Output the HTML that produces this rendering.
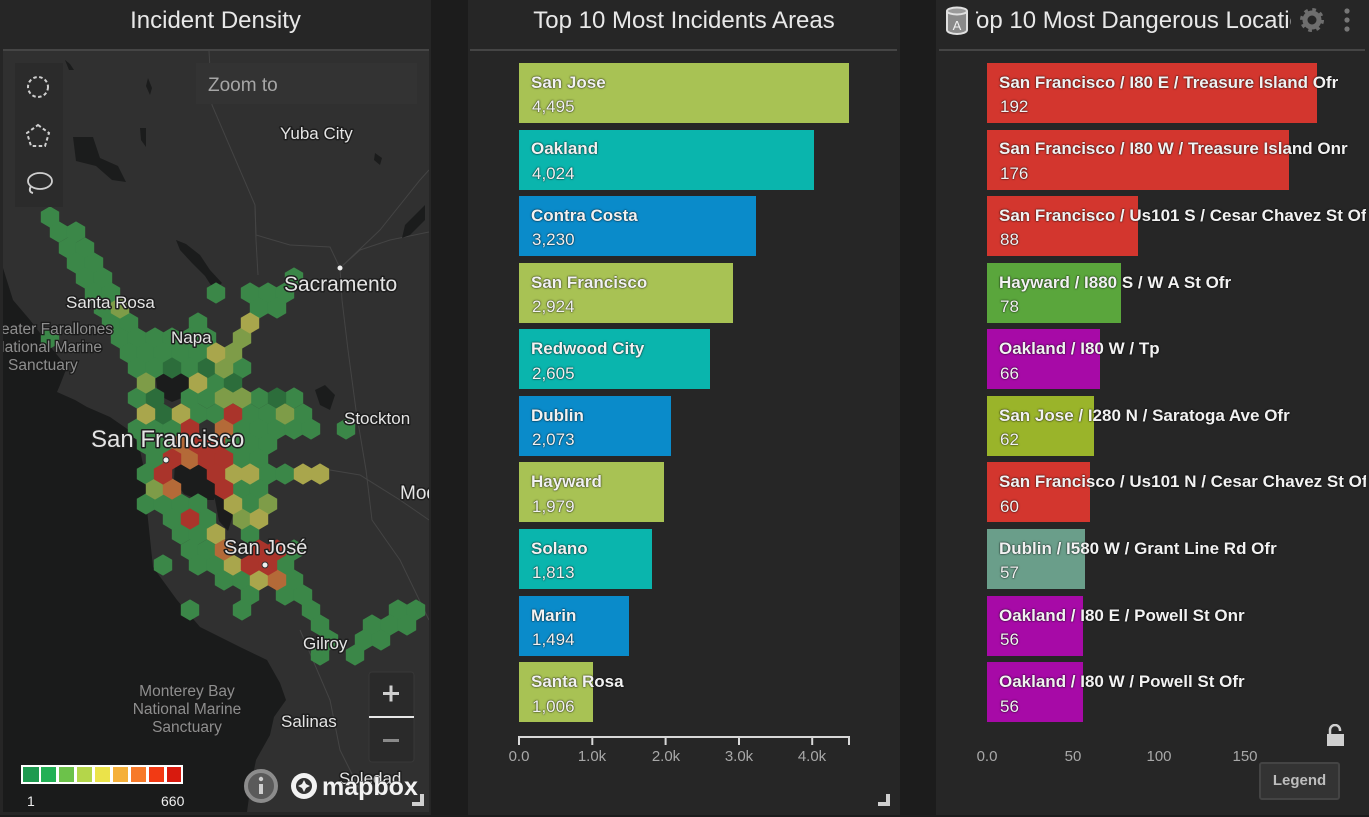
<!DOCTYPE html>
<html><head><meta charset="utf-8">
<style>
*{margin:0;padding:0;box-sizing:border-box}
html,body{width:1369px;height:817px;overflow:hidden;background:#1c1c1c;font-family:"Liberation Sans",sans-serif}
.panel{position:absolute;top:0;height:815px;background:#262626}
.title{position:absolute;top:4px;height:34px;line-height:34px;font-size:24px;color:#e8e8e8;text-align:center;white-space:nowrap}
.hline{position:absolute;top:49px;height:2px;background:#454545}
.bar{position:absolute;height:60px}
.lbl{position:absolute;white-space:nowrap;color:#f2f2f2;text-shadow:0 0 2px rgba(0,0,0,.7),0 0 1px rgba(0,0,0,.8)}
.nm{font-weight:bold;font-size:17px}
.vl{font-size:17px}
.tick{position:absolute;font-size:15px;color:#a8a8a8;transform:translateX(-50%);top:748px}
</style></head><body>

<!-- Panel 1 -->
<div class="panel" style="left:0;width:431px"></div>
<div class="title" style="left:0;width:431px">Incident Density</div>

<svg style="position:absolute;left:0;top:0" width="431" height="815" viewBox="0 0 431 815">
<defs>
<clipPath id="mc"><rect x="3" y="51" width="426" height="761"/></clipPath>
<polygon id="hx" points="0,-10.6 9.2,-5.3 9.2,5.3 0,10.6 -9.2,5.3 -9.2,-5.3"/>
</defs>
<rect x="3" y="49" width="426" height="2" fill="#454545"/>
<g clip-path="url(#mc)">
<rect x="3" y="51" width="426" height="761" fill="#303030"/>
<!-- ocean -->
<polygon fill="#1a1b1b" points="3,268 13,300 30,320 40,333 53,350 67,367 60,385 57,392 75,400 87,407 110,417 133,433 140,450 147,483 147,510 153,567 177,600 200,627 240,647 267,660 280,683 286,700 274,717 270,735 256,760 250,790 247,812 3,812"/>
<!-- roads -->
<g stroke="#444444" stroke-width="1" fill="none">
<polyline points="209,51 212,105 255,205 256,235 290,245 330,247 340,268"/>
<polyline points="340,268 360,250 390,240 429,232"/>
<polyline points="340,268 380,230 420,180 429,170"/>
<polyline points="340,268 342,300 348,350 356,410 366,470 372,520 400,560 429,620"/>
<polyline points="255,205 256,240 258,275"/>
<polyline points="330,470 360,475 400,500 429,520"/>
<polyline points="300,630 330,700 340,750 360,790"/>
</g>
<!-- lakes -->
<g fill="#1b1c1c">
<polygon points="73,137 93,137 100,158 118,166 126,182 112,180 96,166 76,161"/>
<polygon points="176,240 186,244 200,255 210,270 222,283 214,290 205,276 192,263 180,250"/>
<polygon points="65,60 70,64 74,70 69,70"/>
<polygon points="148,78 152,88 150,95 146,86"/>
<polygon points="140,128 146,128 146,147 141,140"/>
<polygon points="375,153 382,158 380,165 374,160"/>
<polygon points="405,225 415,215 425,205 425,220 410,235 402,238"/>
<polygon points="155,372 175,364 190,374 189,395 172,402 158,395"/>
<polygon points="175,462 196,457 212,466 218,486 214,500 199,500 184,494 174,480"/>
<polygon points="214,494 226,499 233,515 228,531 219,521"/>
<polygon points="315,390 325,385 335,395 330,410 320,405"/>
</g>
<!-- hexes -->
<g fill="#3b8748">
<use href="#hx" x="50" y="217"/>
<use href="#hx" x="59" y="232"/><use href="#hx" x="76" y="232"/>
<use href="#hx" x="68" y="248"/><use href="#hx" x="85" y="248"/>
<use href="#hx" x="76" y="263"/><use href="#hx" x="94" y="263"/>
<use href="#hx" x="85" y="278"/><use href="#hx" x="103" y="278"/><use href="#hx" x="294" y="278"/>
<use href="#hx" x="94" y="293"/><use href="#hx" x="111" y="293"/><use href="#hx" x="216" y="293"/><use href="#hx" x="250" y="293"/><use href="#hx" x="268" y="293"/><use href="#hx" x="285" y="293"/>
<use href="#hx" x="103" y="308"/><use href="#hx" x="259" y="308"/><use href="#hx" x="277" y="308"/>
<use href="#hx" x="111" y="323"/><use href="#hx" x="129" y="323"/><use href="#hx" x="198" y="323"/>
<use href="#hx" x="50" y="338"/><use href="#hx" x="120" y="338"/><use href="#hx" x="137" y="338"/><use href="#hx" x="155" y="338"/><use href="#hx" x="172" y="338"/><use href="#hx" x="190" y="338"/><use href="#hx" x="207" y="338"/>
<use href="#hx" x="129" y="353"/><use href="#hx" x="146" y="353"/><use href="#hx" x="163" y="353"/><use href="#hx" x="181" y="353"/><use href="#hx" x="198" y="353"/>
<use href="#hx" x="137" y="368"/><use href="#hx" x="155" y="368"/><use href="#hx" x="190" y="368"/><use href="#hx" x="242" y="368"/>
<use href="#hx" x="216" y="383"/>
<use href="#hx" x="137" y="398"/><use href="#hx" x="190" y="398"/><use href="#hx" x="207" y="398"/><use href="#hx" x="259" y="398"/><use href="#hx" x="294" y="398"/>
<use href="#hx" x="198" y="414"/><use href="#hx" x="216" y="414"/><use href="#hx" x="250" y="414"/><use href="#hx" x="268" y="414"/><use href="#hx" x="303" y="414"/>
<use href="#hx" x="137" y="429"/><use href="#hx" x="155" y="429"/><use href="#hx" x="172" y="429"/><use href="#hx" x="242" y="429"/><use href="#hx" x="259" y="429"/><use href="#hx" x="277" y="429"/><use href="#hx" x="294" y="429"/><use href="#hx" x="311" y="429"/><use href="#hx" x="346" y="429"/>
<use href="#hx" x="146" y="444"/><use href="#hx" x="163" y="444"/><use href="#hx" x="233" y="444"/><use href="#hx" x="250" y="444"/><use href="#hx" x="268" y="444"/>
<use href="#hx" x="155" y="459"/><use href="#hx" x="242" y="459"/><use href="#hx" x="259" y="459"/>
<use href="#hx" x="146" y="474"/><use href="#hx" x="268" y="474"/><use href="#hx" x="285" y="474"/>
<use href="#hx" x="242" y="489"/><use href="#hx" x="259" y="489"/>
<use href="#hx" x="146" y="504"/><use href="#hx" x="163" y="504"/><use href="#hx" x="181" y="504"/><use href="#hx" x="198" y="504"/><use href="#hx" x="250" y="504"/>
<use href="#hx" x="172" y="519"/><use href="#hx" x="207" y="519"/>
<use href="#hx" x="181" y="534"/><use href="#hx" x="198" y="534"/><use href="#hx" x="250" y="534"/>
<use href="#hx" x="190" y="550"/><use href="#hx" x="207" y="550"/><use href="#hx" x="294" y="550"/>
<use href="#hx" x="163" y="565"/><use href="#hx" x="198" y="565"/><use href="#hx" x="216" y="565"/><use href="#hx" x="285" y="565"/>
<use href="#hx" x="224" y="580"/><use href="#hx" x="242" y="580"/><use href="#hx" x="294" y="580"/>
<use href="#hx" x="250" y="595"/><use href="#hx" x="285" y="595"/><use href="#hx" x="303" y="595"/>
<use href="#hx" x="190" y="610"/><use href="#hx" x="242" y="610"/><use href="#hx" x="311" y="610"/><use href="#hx" x="398" y="610"/><use href="#hx" x="416" y="610"/>
<use href="#hx" x="320" y="625"/><use href="#hx" x="372" y="625"/><use href="#hx" x="390" y="625"/><use href="#hx" x="407" y="625"/>
<use href="#hx" x="329" y="640"/><use href="#hx" x="364" y="640"/><use href="#hx" x="381" y="640"/>
<use href="#hx" x="320" y="655"/><use href="#hx" x="355" y="655"/>
</g>
<g fill="#2c6d3b">
<use href="#hx" x="172" y="368"/><use href="#hx" x="207" y="368"/>
<use href="#hx" x="233" y="383"/>
<use href="#hx" x="155" y="398"/><use href="#hx" x="277" y="398"/>
<use href="#hx" x="163" y="414"/>
</g>
<g fill="#7e9c48">
<use href="#hx" x="120" y="308"/><use href="#hx" x="242" y="338"/><use href="#hx" x="233" y="353"/><use href="#hx" x="224" y="368"/>
<use href="#hx" x="146" y="383"/><use href="#hx" x="224" y="398"/><use href="#hx" x="242" y="398"/><use href="#hx" x="285" y="414"/>
<use href="#hx" x="155" y="489"/><use href="#hx" x="268" y="504"/><use href="#hx" x="242" y="519"/>
</g>
<g fill="#a9a64c">
<use href="#hx" x="250" y="323"/><use href="#hx" x="216" y="353"/><use href="#hx" x="198" y="383"/>
<use href="#hx" x="146" y="414"/><use href="#hx" x="181" y="414"/>
<use href="#hx" x="233" y="474"/><use href="#hx" x="250" y="474"/><use href="#hx" x="303" y="474"/><use href="#hx" x="320" y="474"/>
<use href="#hx" x="233" y="504"/><use href="#hx" x="259" y="519"/><use href="#hx" x="216" y="534"/><use href="#hx" x="233" y="565"/><use href="#hx" x="259" y="580"/>
</g>
<g fill="#b46a38">
<use href="#hx" x="224" y="429"/><use href="#hx" x="181" y="444"/><use href="#hx" x="190" y="459"/><use href="#hx" x="172" y="489"/><use href="#hx" x="224" y="550"/><use href="#hx" x="277" y="580"/>
</g>
<g fill="#aa342b">
<use href="#hx" x="233" y="414"/><use href="#hx" x="190" y="429"/><use href="#hx" x="198" y="444"/><use href="#hx" x="216" y="444"/>
<use href="#hx" x="172" y="459"/><use href="#hx" x="207" y="459"/><use href="#hx" x="224" y="459"/>
<use href="#hx" x="163" y="474"/><use href="#hx" x="216" y="474"/><use href="#hx" x="224" y="489"/><use href="#hx" x="190" y="519"/>
<use href="#hx" x="259" y="550"/><use href="#hx" x="277" y="550"/><use href="#hx" x="250" y="565"/><use href="#hx" x="268" y="565"/>
</g>
<!-- city dots -->
<g fill="#f0f0f0" stroke="#333" stroke-width="1">
<circle cx="340" cy="268" r="3"/><circle cx="166" cy="460" r="3"/><circle cx="265" cy="565" r="3"/>
</g>
<!-- labels -->
<g font-family="Liberation Sans, sans-serif" fill="#e4e4e4" stroke="#1e1e1e" stroke-width="3" paint-order="stroke" stroke-linejoin="round">
<text x="280" y="139" font-size="17">Yuba City</text>
<text x="284" y="291" font-size="21">Sacramento</text>
<text x="66" y="308" font-size="17">Santa Rosa</text>
<text x="171" y="343" font-size="17">Napa</text>
<text x="344" y="424" font-size="17">Stockton</text>
<text x="91" y="447" font-size="24">San Francisco</text>
<text x="400" y="499" font-size="19">Modesto</text>
<text x="224" y="554" font-size="20">San José</text>
<text x="303" y="649" font-size="17">Gilroy</text>
<text x="281" y="727" font-size="17">Salinas</text>
<text x="339" y="784" font-size="17">Soledad</text>
</g>
<g font-family="Liberation Sans, sans-serif" fill="#8e8e8e" stroke="#1a1a1a" stroke-width="2.5" paint-order="stroke" font-size="15.5">
<text x="113" y="334" text-anchor="end">Greater Farallones</text>
<text x="102" y="352" text-anchor="end">National Marine</text>
<text x="8" y="370">Sanctuary</text>
<text x="187" y="696" text-anchor="middle">Monterey Bay</text>
<text x="187" y="714" text-anchor="middle">National Marine</text>
<text x="187" y="732" text-anchor="middle">Sanctuary</text>
</g>
</g>
<!-- toolbar -->
<rect x="15" y="63" width="48" height="144" fill="#2b2b2b"/>
<circle cx="38" cy="87" r="10" fill="none" stroke="#cfcfcf" stroke-width="2" stroke-dasharray="3.5 2.5"/>
<polygon points="38,125 49,133 45,146 31,146 27,133" fill="none" stroke="#cfcfcf" stroke-width="2" stroke-dasharray="3.5 2.5"/>
<ellipse cx="40" cy="181" rx="12" ry="8" fill="none" stroke="#cfcfcf" stroke-width="1.8"/>
<path d="M31,186 Q28,192 33,193" fill="none" stroke="#cfcfcf" stroke-width="2"/>
<!-- zoom to -->
<rect x="196" y="63" width="221" height="41" fill="#333333"/>
<text x="208" y="91" font-family="Liberation Sans, sans-serif" font-size="19" fill="#a6a6a6">Zoom to</text>
<!-- zoom ctrl -->
<rect x="369" y="672" width="45" height="90" rx="3" fill="#2a2a2a" stroke="#383838"/>
<rect x="383" y="692" width="16" height="3" fill="#cfcfcf"/><rect x="389.5" y="685.5" width="3" height="16" fill="#cfcfcf"/>
<rect x="369" y="716" width="45" height="2" fill="#e6e6e6"/>
<rect x="383" y="739" width="16" height="3" fill="#8a8a8a"/>
<!-- legend -->
<rect x="21" y="765" width="162" height="19" fill="#ffffff"/>
<g>
<rect x="23" y="767" width="16" height="15" fill="#1e9a50"/>
<rect x="41" y="767" width="15" height="15" fill="#22b055"/>
<rect x="59" y="767" width="15" height="15" fill="#6cc24a"/>
<rect x="77" y="767" width="15" height="15" fill="#b4d64a"/>
<rect x="95" y="767" width="15" height="15" fill="#ebe34a"/>
<rect x="113" y="767" width="15" height="15" fill="#f5b03a"/>
<rect x="131" y="767" width="15" height="15" fill="#f77a2a"/>
<rect x="149" y="767" width="15" height="15" fill="#f23a14"/>
<rect x="167" y="767" width="14" height="15" fill="#d81a0e"/>
</g>
<text x="27" y="806" font-family="Liberation Sans, sans-serif" font-size="14" fill="#eeeeee">1</text>
<text x="161" y="806" font-family="Liberation Sans, sans-serif" font-size="14" fill="#eeeeee">660</text>
<!-- info / mapbox -->
<circle cx="261" cy="786" r="15" fill="#5a5a5a" stroke="#8c8c8c" stroke-width="4"/>
<rect x="259" y="784" width="4" height="10" fill="#cfcfcf"/><circle cx="261" cy="779" r="2.2" fill="#cfcfcf"/>
<circle cx="304" cy="786" r="13" fill="#f2f2f2"/>
<circle cx="304" cy="786" r="8" fill="#333"/>
<path d="M304,780 l2,4 4,2 -4,2 -2,4 -2,-4 -4,-2 4,-2z" fill="#f2f2f2"/>
<text x="322" y="795" font-family="Liberation Sans, sans-serif" font-size="25" font-weight="bold" fill="#f2f2f2" stroke="#333" stroke-width="1" paint-order="stroke">mapbox</text>
<path d="M412,806 h12 v-12 h-4 v8 h-8z" fill="#cfcfcf"/>
</svg>

<!-- Panel 2 -->
<div class="panel" style="left:468px;width:432px"></div>
<div class="title" style="left:468px;width:432px">Top 10 Most Incidents Areas</div>
<div class="hline" style="left:470px;width:427px"></div>

<div class="bar" style="left:519px;top:63px;width:330px;background:#a8c254"></div>
<div class="bar" style="left:519px;top:130px;width:295px;background:#0ab5ad"></div>
<div class="bar" style="left:519px;top:196px;width:237px;background:#0a8bca"></div>
<div class="bar" style="left:519px;top:263px;width:214px;background:#a8c254"></div>
<div class="bar" style="left:519px;top:329px;width:191px;background:#0ab5ad"></div>
<div class="bar" style="left:519px;top:396px;width:152px;background:#0a8bca"></div>
<div class="bar" style="left:519px;top:462px;width:145px;background:#a8c254"></div>
<div class="bar" style="left:519px;top:529px;width:133px;background:#0ab5ad"></div>
<div class="bar" style="left:519px;top:596px;width:110px;background:#0a8bca"></div>
<div class="bar" style="left:519px;top:662px;width:74px;background:#a8c254"></div>

<div class="lbl nm" style="left:531px;top:73px">San Jose</div><div class="lbl vl" style="left:532px;top:97px">4,495</div>
<div class="lbl nm" style="left:531px;top:139px">Oakland</div><div class="lbl vl" style="left:532px;top:164px">4,024</div>
<div class="lbl nm" style="left:531px;top:206px">Contra Costa</div><div class="lbl vl" style="left:532px;top:230px">3,230</div>
<div class="lbl nm" style="left:531px;top:273px">San Francisco</div><div class="lbl vl" style="left:532px;top:297px">2,924</div>
<div class="lbl nm" style="left:531px;top:339px">Redwood City</div><div class="lbl vl" style="left:532px;top:364px">2,605</div>
<div class="lbl nm" style="left:531px;top:406px">Dublin</div><div class="lbl vl" style="left:532px;top:430px">2,073</div>
<div class="lbl nm" style="left:531px;top:472px">Hayward</div><div class="lbl vl" style="left:532px;top:497px">1,979</div>
<div class="lbl nm" style="left:531px;top:539px">Solano</div><div class="lbl vl" style="left:532px;top:563px">1,813</div>
<div class="lbl nm" style="left:531px;top:606px">Marin</div><div class="lbl vl" style="left:532px;top:630px">1,494</div>
<div class="lbl nm" style="left:531px;top:672px">Santa Rosa</div><div class="lbl vl" style="left:532px;top:697px">1,006</div>

<svg style="position:absolute;left:0;top:0" width="1369" height="817">
<g stroke="#d8d8d8" stroke-width="2" fill="none">
<path d="M519,737 H849 M519,736 V745 M592.3,737 V745 M665.6,737 V745 M739,737 V745 M812.2,737 V745 M849,736 V745"/>
<path d="M987,737 H1317 M987,736 V745 M1073,737 V745 M1159,737 V745 M1245,737 V745 M1317,736 V745"/>
</g>
<path d="M878,806 h12 v-12 h-4 v8 h-8z" fill="#cfcfcf"/>
<path d="M1346,806 h12 v-12 h-4 v8 h-8z" fill="#cfcfcf"/>
</svg>
<div class="tick" style="left:519px">0.0</div>
<div class="tick" style="left:592px">1.0k</div>
<div class="tick" style="left:666px">2.0k</div>
<div class="tick" style="left:739px">3.0k</div>
<div class="tick" style="left:812px">4.0k</div>

<!-- Panel 3 -->
<div class="panel" style="left:936px;width:433px"></div>
<div style="position:absolute;left:976px;top:4px;width:315px;height:34px;overflow:hidden">
<div style="position:absolute;left:-12px;top:0;line-height:34px;font-size:24px;color:#e8e8e8;white-space:nowrap">Top 10 Most Dangerous Locations</div>
</div>
<div class="hline" style="left:939px;width:426px"></div>
<svg style="position:absolute;left:944px;top:6px" width="28" height="30">
<path d="M3,5 V24 A10,4 0 0 0 23,24 V5" fill="#8a8a8a" stroke="#e0e0e0" stroke-width="2"/>
<ellipse cx="13" cy="5" rx="10" ry="3.5" fill="#9a9a9a" stroke="#e0e0e0" stroke-width="2"/>
<text x="13" y="24" text-anchor="middle" font-family="Liberation Sans, sans-serif" font-size="13" fill="#f0f0f0">A</text>
</svg>
<svg style="position:absolute;left:1298px;top:6px" width="60" height="30">
<circle cx="14" cy="14" r="7" fill="none" stroke="#6e6e6e" stroke-width="5"/>
<circle cx="14" cy="14" r="10" fill="none" stroke="#6e6e6e" stroke-width="4" stroke-dasharray="3.5 4.35"/>
<circle cx="49" cy="5" r="2.6" fill="#777"/><circle cx="49" cy="14" r="2.6" fill="#777"/><circle cx="49" cy="23" r="2.6" fill="#777"/>
</svg>

<div style="position:absolute;left:936px;top:0;width:430px;height:815px;overflow:hidden">
<div class="bar" style="left:51px;top:63px;width:330px;background:#d3362e"></div>
<div class="bar" style="left:51px;top:130px;width:302px;background:#d3362e"></div>
<div class="bar" style="left:51px;top:196px;width:151px;background:#d3362e"></div>
<div class="bar" style="left:51px;top:263px;width:134px;background:#5aa63c"></div>
<div class="bar" style="left:51px;top:329px;width:113px;background:#a70aa7"></div>
<div class="bar" style="left:51px;top:396px;width:107px;background:#9ab42a"></div>
<div class="bar" style="left:51px;top:462px;width:103px;background:#d3362e"></div>
<div class="bar" style="left:51px;top:529px;width:98px;background:#6a9e8a"></div>
<div class="bar" style="left:51px;top:596px;width:96px;background:#a70aa7"></div>
<div class="bar" style="left:51px;top:662px;width:96px;background:#a70aa7"></div>

<div class="lbl nm" style="left:63px;top:73px">San Francisco / I80 E / Treasure Island Ofr</div><div class="lbl vl" style="left:64px;top:97px">192</div>
<div class="lbl nm" style="left:63px;top:139px">San Francisco / I80 W / Treasure Island Onr</div><div class="lbl vl" style="left:64px;top:164px">176</div>
<div class="lbl nm" style="left:63px;top:206px">San Francisco / Us101 S / Cesar Chavez St Ofr</div><div class="lbl vl" style="left:64px;top:230px">88</div>
<div class="lbl nm" style="left:63px;top:273px">Hayward / I880 S / W A St Ofr</div><div class="lbl vl" style="left:64px;top:297px">78</div>
<div class="lbl nm" style="left:63px;top:339px">Oakland / I80 W / Tp</div><div class="lbl vl" style="left:64px;top:364px">66</div>
<div class="lbl nm" style="left:63px;top:406px">San Jose / I280 N / Saratoga Ave Ofr</div><div class="lbl vl" style="left:64px;top:430px">62</div>
<div class="lbl nm" style="left:63px;top:472px">San Francisco / Us101 N / Cesar Chavez St Ofr</div><div class="lbl vl" style="left:64px;top:497px">60</div>
<div class="lbl nm" style="left:63px;top:539px">Dublin / I580 W / Grant Line Rd Ofr</div><div class="lbl vl" style="left:64px;top:563px">57</div>
<div class="lbl nm" style="left:63px;top:606px">Oakland / I80 E / Powell St Onr</div><div class="lbl vl" style="left:64px;top:630px">56</div>
<div class="lbl nm" style="left:63px;top:672px">Oakland / I80 W / Powell St Ofr</div><div class="lbl vl" style="left:64px;top:697px">56</div>
</div>

<div class="tick" style="left:987px">0.0</div>
<div class="tick" style="left:1073px">50</div>
<div class="tick" style="left:1159px">100</div>
<div class="tick" style="left:1245px">150</div>

<svg style="position:absolute;left:1324px;top:724px" width="24" height="24">
<path d="M6,10 V6 A5,5 0 0 1 16,6 V7" fill="none" stroke="#cfcfcf" stroke-width="2.5"/>
<rect x="3" y="10" width="17" height="12" fill="#cfcfcf"/>
</svg>
<div style="position:absolute;left:1259px;top:762px;width:81px;height:38px;background:#333;border:2px solid #444;border-radius:3px;color:#bdbdbd;font-weight:bold;font-size:15px;line-height:34px;text-align:center">Legend</div>

</body></html>
